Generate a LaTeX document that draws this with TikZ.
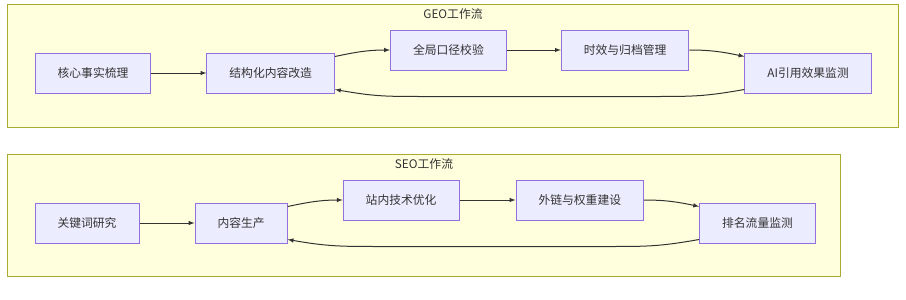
\documentclass[tikz,border=0pt]{standalone}
\usepackage{fontspec}
\setmainfont{Noto Sans CJK SC}
\usetikzlibrary{positioning}

\definecolor{clfill}{HTML}{FFFFDE}
\definecolor{clline}{HTML}{AAAA33}
\definecolor{ndfill}{HTML}{ECECFF}
\definecolor{ndline}{HTML}{9370DB}
\definecolor{edgegray}{HTML}{333333}

\tikzset{
    stepbox/.style={draw=ndline, fill=ndfill, line width=1pt, minimum height=40pt,
        inner xsep=22.5pt, text=edgegray, font=\fontsize{11.8}{14}\selectfont},
    cluster/.style={draw=clline, fill=clfill, line width=1pt, inner sep=0pt},
    title/.style={text=edgegray, font=\fontsize{11.8}{14}\selectfont},
    flow/.style={->, draw=edgegray, line width=1pt},
}

\begin{document}
\begin{tikzpicture}[x=1pt, y=1pt, node distance=55pt, >=latex]

    \useasboundingbox (0,0) rectangle (906,-300);

    % GEO
    \node[cluster, minimum width=891pt, minimum height=123pt] (geobox) at (452.5,-65.5) {};
    \node[title] (geotitle) at (453,-14) {GEO工作流};

    \node[stepbox] (hexin) at (93,-73) {核心事实梳理};
    \node[stepbox, right=of hexin] (jiegou) {结构化内容改造};
    \node[stepbox, right=of jiegou, yshift=23pt] (quanju) {全局口径校验};
    \node[stepbox, right=54pt of quanju] (shixiao) {时效与归档管理};
    \node[stepbox, right=of shixiao, yshift=-23pt] (aijiance) {AI引用效果监测};

    \draw[flow] (hexin) -- (jiegou);
    \draw[flow] ([yshift=-4pt]jiegou.north east) to[out=12,in=180] (quanju.west);
    \draw[flow] (quanju) -- (shixiao);
    \draw[flow] (shixiao.east) to[out=0,in=168] ([yshift=-4pt]aijiance.north west);
    \draw[flow] ([yshift=4pt]aijiance.south west) .. controls +(-40,-7) and +(40,0) .. ++(-91,-7)
        -- ++(-228,0) .. controls +(-40,0) and +(40,-7) .. ([yshift=4pt]jiegou.south east);

    % SEO
    \node[cluster, minimum width=833pt, minimum height=122pt] (seobox) at (423.5,-215) {};
    \node[title] (seotitle) at (424,-164) {SEO工作流};

    \node[stepbox] (guanjian) at (87,-223) {关键词研究};
    \node[stepbox, right=of guanjian] (neirong) {内容生产};
    \node[stepbox, right=of neirong, yshift=23pt] (zhannei) {站内技术优化};
    \node[stepbox, right=56pt of zhannei] (wailian) {外链与权重建设};
    \node[stepbox, right=of wailian, yshift=-23pt] (paiming) {排名流量监测};

    \draw[flow] (guanjian) -- (neirong);
    \draw[flow] ([yshift=-4pt]neirong.north east) to[out=12,in=180] (zhannei.west);
    \draw[flow] (zhannei) -- (wailian);
    \draw[flow] (wailian.east) to[out=0,in=168] ([yshift=-4pt]paiming.north west);
    \draw[flow] ([yshift=4pt]paiming.south west) .. controls +(-40,-7) and +(40,0) .. ++(-91,-7)
        -- ++(-227,0) .. controls +(-40,0) and +(40,-7) .. ([yshift=4pt]neirong.south east);

\end{tikzpicture}
\end{document}
